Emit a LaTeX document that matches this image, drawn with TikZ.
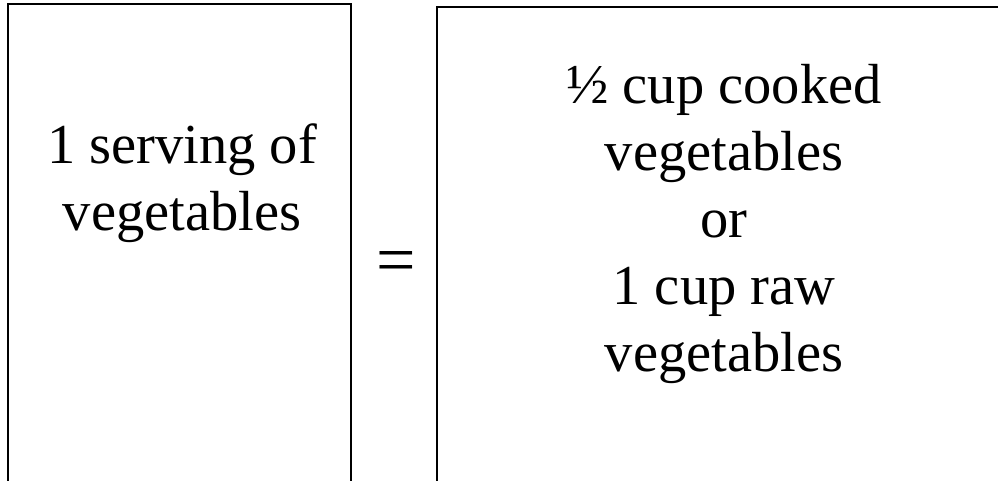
\documentclass[tikz,border=0pt]{standalone}
\usepackage{fontspec}
\setmainfont{Liberation Serif}
\begin{document}
\begin{tikzpicture}[x=1pt,y=-1pt,
  box/.style={draw=black,line width=2.5pt},
  txt/.style={inner sep=0pt,align=center,font=\fontsize{56.5}{67}\selectfont}]
\useasboundingbox (0,0) rectangle (998,480);
\clip (0,0) rectangle (998,480);
\draw[box] (8,4) rectangle (351,500);
\draw[box] (437,7) rectangle (1010,500);
\node[txt,anchor=base] (left) at (182,230) {1 serving of\\vegetables};
\node[txt,anchor=base] (right) at (724,371) {½ cup cooked\\vegetables\\or\\1 cup raw\\vegetables};
\node[inner sep=0pt,font=\fontsize{70}{80}\selectfont] (eq) at (396,267) {=};
\end{tikzpicture}
\end{document}
